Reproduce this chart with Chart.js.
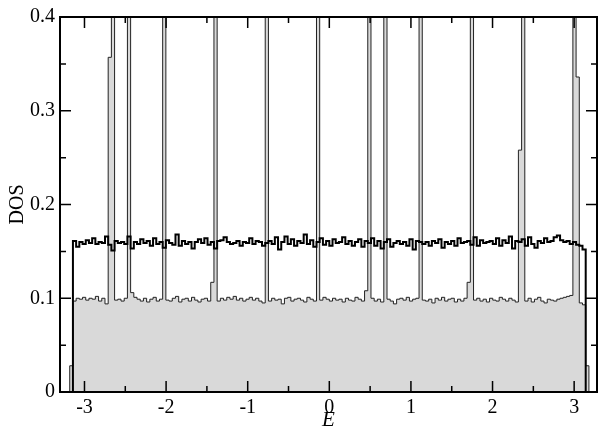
<!DOCTYPE html>
<html>
<head>
<meta charset="utf-8">
<script src="https://cdn.jsdelivr.net/npm/chart.js@4.4.0/dist/chart.umd.min.js"></script>
<style>
  html, body { margin: 0; padding: 0; background: #fff; }
  #wrap { width: 598px; height: 433px; position: relative; }
</style>
</head>
<body>
<div id="wrap"><canvas id="chart_dos"></canvas></div>
<script>
// histogram range: bins from -pi to pi
const binCount = 160;
const eMin = -Math.PI;
const eMax = Math.PI;

// thick black histogram (160 bins)
const dosBlack = [
  0.161, 0.155, 0.160, 0.158, 0.162, 0.159, 0.164, 0.158, 0.160, 0.159,
  0.166, 0.157, 0.151, 0.161, 0.159, 0.160, 0.158, 0.166, 0.153, 0.160,
  0.158, 0.163, 0.159, 0.161, 0.156, 0.164, 0.158, 0.160, 0.154, 0.162,
  0.159, 0.157, 0.168, 0.156, 0.161, 0.158, 0.160, 0.153, 0.160, 0.163,
  0.159, 0.164, 0.157, 0.160, 0.153, 0.161, 0.162, 0.165, 0.160, 0.158,
  0.159, 0.161, 0.156, 0.160, 0.159, 0.164, 0.158, 0.161, 0.160, 0.156,
  0.159, 0.161, 0.158, 0.165, 0.152, 0.160, 0.166, 0.158, 0.163, 0.156,
  0.161, 0.159, 0.168, 0.158, 0.162, 0.155, 0.160, 0.164, 0.157, 0.161,
  0.156, 0.163, 0.159, 0.160, 0.165, 0.158, 0.161, 0.156, 0.160, 0.163,
  0.155, 0.161, 0.159, 0.164, 0.156, 0.161, 0.153, 0.160, 0.163, 0.155,
  0.159, 0.161, 0.158, 0.160, 0.156, 0.163, 0.152, 0.161, 0.160, 0.158,
  0.160, 0.156, 0.161, 0.159, 0.163, 0.154, 0.160, 0.158, 0.161, 0.156,
  0.164, 0.159, 0.160, 0.161, 0.157, 0.165, 0.156, 0.162, 0.159, 0.160,
  0.161, 0.158, 0.164, 0.156, 0.162, 0.159, 0.166, 0.153, 0.161, 0.160,
  0.163, 0.156, 0.165, 0.158, 0.154, 0.161, 0.159, 0.164, 0.160, 0.161,
  0.165, 0.167, 0.162, 0.160, 0.161, 0.158, 0.160, 0.157, 0.156, 0.152
];

// grey filled histogram: one extra bin on each side of [-pi, pi] (162 bins)
// spikes run far off the top of the plot (value 2)
const dosGrey = [
  0.028,
  0.097, 0.100, 0.099, 0.101, 0.098, 0.100, 0.099, 0.102, 0.097, 0.100,
  0.094, 0.357, 2.000, 0.098, 0.099, 0.097, 0.100, 2.000, 0.106, 0.101,
  0.099, 0.097, 0.100, 0.096, 0.099, 0.101, 0.097, 0.099, 2.000, 0.098,
  0.097, 0.100, 0.102, 0.096, 0.099, 0.100, 0.097, 0.101, 0.098, 0.096,
  0.099, 0.100, 0.097, 0.117, 2.000, 0.097, 0.100, 0.098, 0.101, 0.099,
  0.102, 0.098, 0.100, 0.097, 0.099, 0.101, 0.098, 0.100, 0.097, 0.095,
  2.000, 0.097, 0.100, 0.098, 0.099, 0.094, 0.100, 0.101, 0.097, 0.099,
  0.100, 0.098, 0.096, 0.101, 0.099, 0.097, 2.000, 0.098, 0.101, 0.099,
  0.097, 0.100, 0.098, 0.099, 0.096, 0.100, 0.098, 0.097, 0.101, 0.099,
  0.097, 0.108, 2.000, 0.100, 0.097, 0.099, 0.096, 2.000, 0.099, 0.097,
  0.094, 0.099, 0.100, 0.098, 0.101, 0.097, 0.099, 0.100, 2.000, 0.098,
  0.097, 0.099, 0.095, 0.100, 0.098, 0.101, 0.097, 0.099, 0.100, 0.096,
  0.099, 0.097, 0.100, 0.117, 2.000, 0.098, 0.100, 0.097, 0.099, 0.096,
  0.100, 0.098, 0.097, 0.101, 0.099, 0.097, 0.100, 0.098, 0.096, 0.258,
  2.000, 0.097, 0.100, 0.096, 0.099, 0.101, 0.097, 0.095, 0.099, 0.098,
  0.097, 0.099, 0.100, 0.101, 0.102, 0.103, 2.000, 0.336, 0.095, 0.093,
  0.028
];

const xMajorTicks = [-3, -2, -1, 0, 1, 2, 3];
const xMinorTicks = [-2.5, -1.5, -0.5, 0.5, 1.5, 2.5];
const yMajorTicks = [0, 0.1, 0.2, 0.3, 0.4];
const yMinorTicks = [0.05, 0.15, 0.25, 0.35];
const yTickLabels = ["0", "0.1", "0.2", "0.3", "0.4"];

// turn bin values into step points (closed to zero at both ends)
function histPoints(values, start, width) {
  const pts = [{ x: start, y: 0 }];
  values.forEach((v, i) => {
    pts.push({ x: start + i * width, y: v });
  });
  pts.push({ x: start + values.length * width, y: 0 });
  return pts;
}

const binWidth = (eMax - eMin) / binCount;

// inward ticks on all four sides + frame
const frameTicksPlugin = {
  id: "frame_ticks",
  afterDatasetsDraw(chart) {
    const { ctx, chartArea: a, scales } = chart;
    const xs = scales.x;
    const ys = scales.y;
    ctx.save();
    ctx.strokeStyle = "#000";
    ctx.lineWidth = 1.5;
    ctx.beginPath();
    const xTick = (v, len) => {
      const px = xs.getPixelForValue(v);
      ctx.moveTo(px, a.bottom);
      ctx.lineTo(px, a.bottom - len);
      ctx.moveTo(px, a.top);
      ctx.lineTo(px, a.top + len);
    };
    const yTick = (v, len) => {
      const py = ys.getPixelForValue(v);
      ctx.moveTo(a.left, py);
      ctx.lineTo(a.left + len, py);
      ctx.moveTo(a.right, py);
      ctx.lineTo(a.right - len, py);
    };
    xMajorTicks.forEach((v) => xTick(v, 11));
    xMinorTicks.forEach((v) => xTick(v, 6));
    yMajorTicks.forEach((v) => yTick(v, 11));
    yMinorTicks.forEach((v) => yTick(v, 6));
    ctx.stroke();

    ctx.lineWidth = 2;
    ctx.strokeRect(a.left, a.top, a.right - a.left, a.bottom - a.top);
    ctx.restore();
  },
};

const serif = "'Liberation Serif', 'DejaVu Serif', serif";

const ctxDos = document.getElementById("chart_dos").getContext("2d");

const dosChart = new Chart(ctxDos, {
  type: "line",
  data: {
    datasets: [
      {
        label: "total",
        data: histPoints(dosBlack, eMin, binWidth),
        borderColor: "#000",
        borderWidth: 2,
        stepped: true,
        fill: false,
        pointRadius: 0,
      },
      {
        label: "partial",
        data: histPoints(dosGrey, eMin - binWidth, binWidth),
        borderColor: "#222",
        borderWidth: 1,
        backgroundColor: "#d9d9d9",
        stepped: true,
        fill: "origin",
        pointRadius: 0,
      },
    ],
  },
  options: {
    animation: false,
    responsive: true,
    maintainAspectRatio: false,
    layout: {
      padding: { top: 14, right: 1, left: 0, bottom: 0 },
    },
    plugins: {
      legend: { display: false },
      tooltip: { enabled: false },
    },
    scales: {
      x: {
        type: "linear",
        min: -3.3,
        max: 3.28,
        grid: { display: false, drawTicks: false },
        border: { display: false },
        afterBuildTicks: (scale) => {
          scale.ticks = xMajorTicks.map((v) => ({ value: v }));
        },
        afterFit: (scale) => {
          scale.height = 41;
        },
        ticks: {
          padding: 4,
          maxRotation: 0,
          color: "#000",
          font: { family: serif, size: 20 },
          callback: (v) => String(v),
        },
        title: {
          display: true,
          text: "E",
          color: "#000",
          padding: { top: 0, bottom: 0 },
          font: { family: serif, size: 21, style: "italic" },
        },
      },
      y: {
        type: "linear",
        min: 0,
        max: 0.4,
        grid: { display: false, drawTicks: false },
        border: { display: false },
        afterBuildTicks: (scale) => {
          scale.ticks = yMajorTicks.map((v) => ({ value: v }));
        },
        afterFit: (scale) => {
          scale.width = 60;
        },
        ticks: {
          padding: 5,
          color: "#000",
          font: { family: serif, size: 20 },
          callback: (v) => yTickLabels[yMajorTicks.indexOf(v)],
        },
        title: {
          display: true,
          text: "DOS",
          color: "#000",
          padding: { top: 6, bottom: 0 },
          font: { family: serif, size: 20 },
        },
      },
    },
  },
  plugins: [frameTicksPlugin],
});
</script>
</body>
</html>
